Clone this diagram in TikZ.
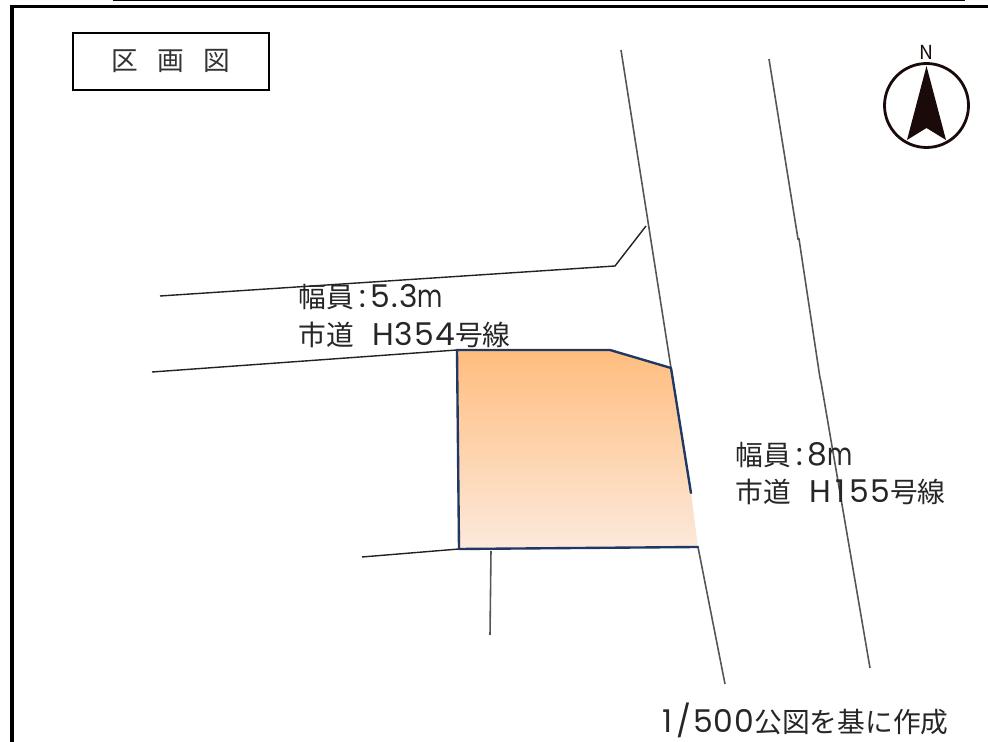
\documentclass[tikz,border=0pt]{standalone}
\usepackage{fontspec}
\usepackage{graphicx}
\setmainfont{Noto Sans CJK JP}
\newfontfamily\latinfont[Scale=1.13,LetterSpace=3.5]{Poppins}
\newcommand{\unitm}{\scalebox{0.78}[1]{m}}
\usetikzlibrary{positioning}
\definecolor{plan_frame}{HTML}{000000}
\definecolor{plan_road}{HTML}{555555}
\definecolor{plan_line}{HTML}{222222}
\definecolor{plot_edge}{HTML}{1F3864}
\definecolor{plot_top}{HTML}{FFBD7E}
\definecolor{plot_bot}{HTML}{FDE9DC}
\definecolor{compass_dark}{HTML}{1A0A0A}
\tikzset{
  road/.style={draw=plan_road, line width=0.9pt},
  lot/.style={draw=plan_line, line width=0.8pt},
  plotedge/.style={draw=plot_edge, line width=1.35pt, line cap=round, line join=round},
  label/.style={anchor=west, inner sep=0pt, font=\fontsize{15.8pt}{19pt}\selectfont, text=black!85, align=left}
}
\begin{document}
\begin{tikzpicture}[x=0.02cm,y=-0.02cm]
\useasboundingbox (0,0) rectangle (988,742);
%\draw[step=100, very thin, red] (0,0) grid (988,742);

% frame
\draw[plan_frame, line width=0.7pt] (113,0.5) -- (965,0.5);
\draw[plan_frame, line width=2.2pt] (11.8,742) -- (11.8,6.5) -- (988,6.5);

% title
\node[draw, rectangle, line width=0.9pt, minimum width=3.92cm, minimum height=1.14cm, inner sep=0pt, text=black!80, font=\fontsize{15.2pt}{16pt}\selectfont] (title) at (171,61.5) {区\hspace{0.72em}画\hspace{0.72em}図};

% north
\node[circle, draw=compass_dark, line width=1.6pt, minimum size=1.68cm, inner sep=0pt] (compass) at (926.5,105.5) {};
\node[inner sep=0pt, font=\fontsize{11pt}{12pt}\selectfont, text=compass_dark] (north) at (926.5,52) {N};
\fill[compass_dark] (926.5,66) -- (946,140) -- (926.5,128) -- (907,140) -- cycle;

% roads
\draw[road] (621,50) -- (671,368);
\draw[road] (698,547) -- (725,684);
\draw[road] (769,59) -- (798,239) -- (799,239) -- (820,378) -- (821,382) -- (870,668);
\draw[lot] (160,296) -- (615,266) -- (646,226);
\draw[lot] (152,372) -- (457,350);
\draw[lot] (362,557) -- (459,549);
\draw[road] (491,551) -- (490,635);

% plot
\shade[top color=plot_top, bottom color=plot_bot] (457,350) -- (610,350) -- (671,368) -- (691,493) -- (698,547) -- (459,549) -- cycle;
\draw[plotedge] (691,493) -- (671,368) -- (610,350) -- (457,350) -- (459,549) -- (698,547);

% labels
\node[label] (width1) at (298,297) {幅員{\latinfont\,:\,5.3\unitm}};
\node[label] (name1) at (298,335) {市道\hspace{0.66em}{\latinfont H354}号線};
\node[label] (width2) at (735,455) {幅員{\latinfont\,:\,8\unitm}};
\node[label] (name2) at (735,492) {市道\hspace{0.66em}{\latinfont H\kern2.5pt 1\kern2.5pt 55}号線};
\node[label, anchor=east] (source) at (949,720) {{\latinfont 1\kern2pt/\kern1pt 500}公図を基に作成};
\end{tikzpicture}
\end{document}
